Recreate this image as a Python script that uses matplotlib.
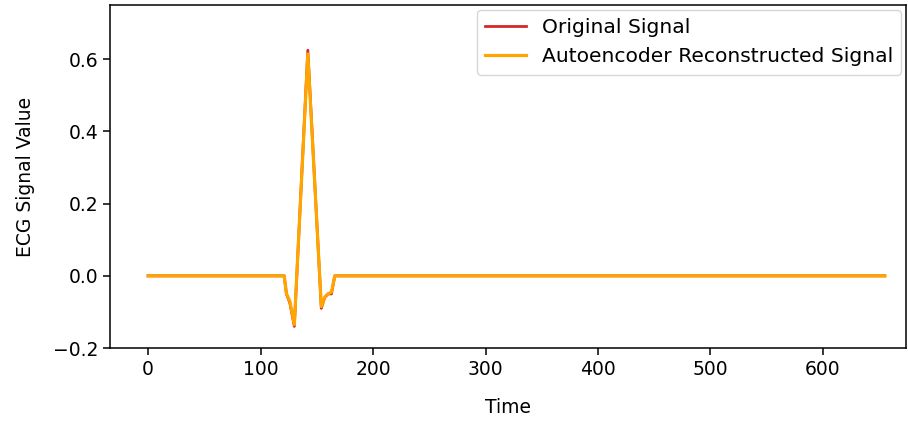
import matplotlib
matplotlib.use("Agg")
import matplotlib.pyplot as plt

# breakpoints (time, value)
time_pts = [0, 121, 123, 126, 130, 142, 154, 157, 160, 163, 166, 655]
original = [0.0, 0.0, -0.05, -0.075, -0.14, 0.625, -0.09, -0.06, -0.05, -0.05, 0.0, 0.0]
reconstructed = [0.0, 0.0, -0.05, -0.07, -0.135, 0.615, -0.085, -0.06, -0.05, -0.045, 0.0, 0.0]

plt.rcParams["font.size"] = 13.5

fig = plt.figure(figsize=(9.08, 4.26), dpi=100)
ax = fig.add_axes([0.121, 0.183, 0.877, 0.805])

ax.plot(time_pts, original, color="#d62728", label="Original Signal", lw=2)
ax.plot(time_pts, reconstructed, color="orange", label="Autoencoder Reconstructed Signal", lw=2.3)

ax.set_xlim(-34, 674)
ax.set_ylim(-0.2, 0.75)
ax.set_xticks([0, 100, 200, 300, 400, 500, 600])
ax.set_yticks([-0.2, 0.0, 0.2, 0.4, 0.6])
ax.tick_params(length=5, width=1.1)
for s in ax.spines.values():
    s.set_linewidth(1.1)
ax.set_xlabel("Time", labelpad=14)
ax.set_ylabel("ECG Signal Value", labelpad=13)
ax.legend(loc="upper right", fontsize=14.6, borderaxespad=0.25)

fig.savefig("out.png", dpi=100)
